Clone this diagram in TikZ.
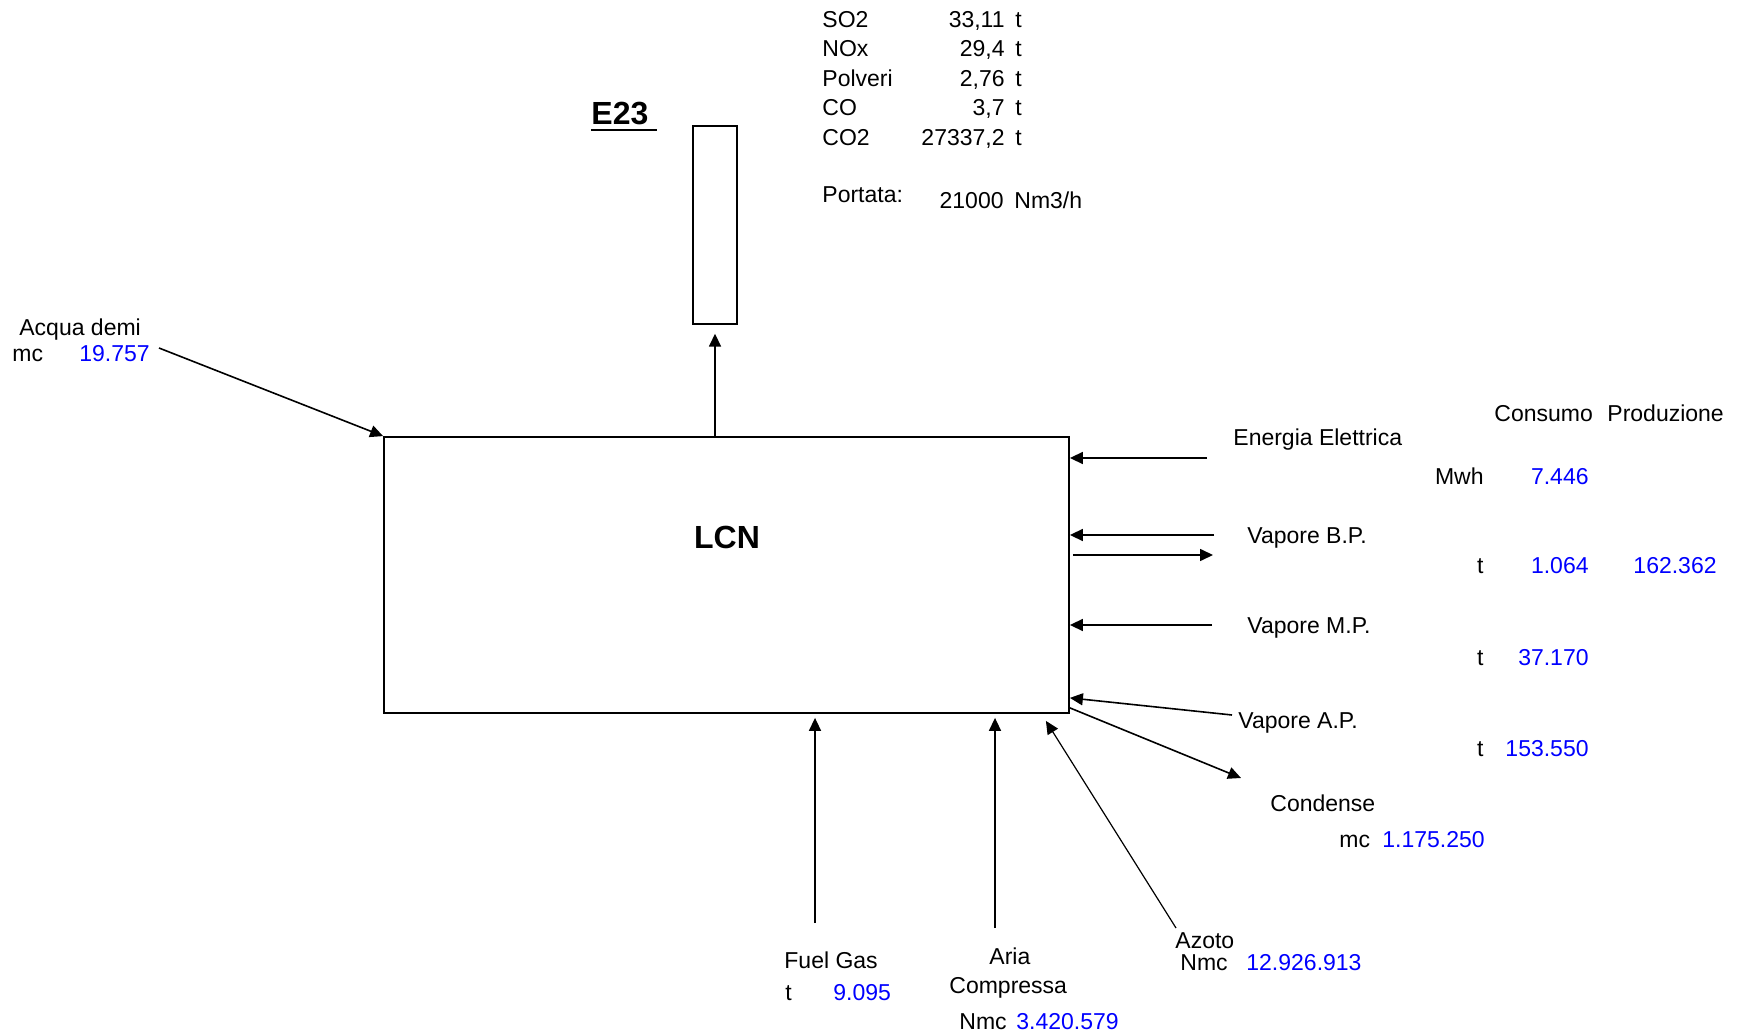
\documentclass[tikz,border=0pt]{standalone}
\usepackage{fontspec}
\setmainfont{Liberation Sans}
\usepackage{tikz}
\usetikzlibrary{arrows.meta}

\newcommand{\ulsp}[1]{\setbox0\hbox{#1\ }\rlap{\rule[-3.5pt]{\wd0}{1.4pt}}#1}

\tikzset{
    txt/.style={inner sep=0pt,anchor=west,font=\fontsize{11.5}{13}\selectfont,text height=8.2pt,text depth=0pt},
    val/.style={txt,text=blue},
    big/.style={inner sep=0pt,font=\bfseries\fontsize{16}{19}\selectfont,text height=11.5pt,text depth=0pt},
    arr/.style={-{Triangle[length=6.5pt,width=6pt]},line width=0.8pt},
}

\begin{document}
\begin{tikzpicture}[x=0.5pt,y=-0.5pt]
    \useasboundingbox(0,0) rectangle (1744,1036);
    % unit and stack
    \node[draw,line width=0.9pt,minimum width=342.5pt,minimum height=138pt,inner sep=0pt](lcn) at(726.5,575){};
    \node[big](lcnlbl) at(727,537){LCN};
    \node[draw,line width=0.7pt,minimum width=22pt,minimum height=99pt,inner sep=0pt](stack) at(715,225){};
    \node[big,anchor=west](e23) at(591,113){\ulsp{E23}};
    % emissions
    \foreach\nm/\vl/\yy [count=\k] in{SO2/{33,11}/19,NOx/{29,4}/48,Polveri/{2,76}/78,CO/{3,7}/107,CO2/{27337,2}/137}{
        \node[txt] at(822,\yy)(em\k){\nm};
        \node[txt,anchor=east] at(1005,\yy)(emv\k){\vl};
        \node[txt] at(1015,\yy)(emu\k){t};
    }
    \node[txt] at(822,194)(port){Portata:};
    \node[txt,anchor=east] at(1004,200)(portv){21000};
    \node[txt] at(1014,200)(portu){Nm3/h};
    % inputs and outputs, right side
    \node[txt] at(1494,413)(cons){Consumo};
    \node[txt] at(1607,413)(prod){Produzione};
    \foreach\nm/\lx/\ly/\un/\vl/\vy in{Energia Elettrica/1233/437/Mwh/7.446/476,Vapore B.P./1247/535/t/1.064/565,Vapore M.P./1247/625/t/37.170/657,Vapore A.P./1238/720/t/153.550/748}{
        \node[txt] at(\lx,\ly)(n\ly){\nm};
        \node[txt,anchor=east] at(1484,\vy)(u\vy){\un};
        \node[val,anchor=east] at(1589,\vy)(v\vy){\vl};
    }
    \node[val,anchor=east] at(1717,565)(bpprod){162.362};
    \node[txt] at(1270,803)(cond){Condense};
    \node[txt] at(1339,839)(condu){mc};
    \node[val] at(1382,839)(condv){1.175.250};
    % left side
    \node[txt] at(19,327)(acq){Acqua demi};
    \node[txt] at(12,353)(acqu){mc};
    \node[val] at(79,353)(acqv){19.757};
    % bottom
    \node[txt] at(784,960)(fuel){Fuel Gas};
    \node[txt] at(785,992)(fuelu){t};
    \node[val] at(833,992)(fuelv){9.095};
    \node[txt] at(989,956)(aria){Aria};
    \node[txt] at(949,985)(comp){Compressa};
    \node[txt] at(959,1021)(ariau){Nmc};
    \node[val] at(1016,1021)(ariav){3.420.579};
    \node[txt] at(1175,940)(azo){Azoto};
    \node[txt] at(1180,962)(azou){Nmc};
    \node[val] at(1246,962)(azov){12.926.913};
    % connector ends
    \coordinate(pacq) at(159,348);
    \coordinate(pee) at(1207,458);
    \coordinate(pbpi) at(1214,535);
    \coordinate(pbpo) at(1213,555);
    \coordinate(pmp) at(1212,625);
    \coordinate(pap) at(1232,715);
    \coordinate(pcd) at(1241,778);
    \coordinate(pfg) at(815,923);
    \coordinate(pac) at(995,928);
    \coordinate(paz) at(1176,928);
    % connectors
    \draw[arr](pacq) -- (lcn.north west);
    \draw[arr,shorten >=4.5pt](lcn.north -| stack.south) -- (stack.south);
    \draw[arr](pee) -- (pee -| lcn.east);
    \draw[arr](pbpi) -- (pbpi -| lcn.east);
    \draw[arr,shorten <=1.5pt](pbpo -| lcn.east) -- (pbpo);
    \draw[arr](pmp) -- (pmp -| lcn.east);
    \draw[arr](pap) -- ([yshift=8pt]lcn.south east);
    \draw[arr]([yshift=3pt]lcn.south east) -- (pcd);
    \draw[arr,shorten >=2pt](pfg) -- (pfg |- lcn.south);
    \draw[arr,shorten >=2pt](pac) -- (pac |- lcn.south);
    \draw[arr,line width=0.6pt](paz) -- ([xshift=-12pt,yshift=-3.5pt]lcn.south east);
\end{tikzpicture}
\end{document}
